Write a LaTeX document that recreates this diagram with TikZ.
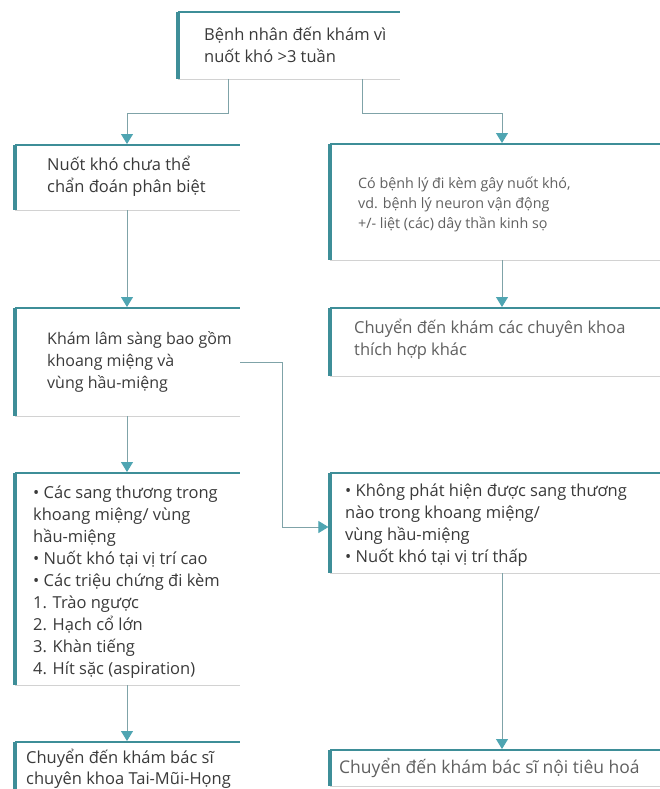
\documentclass[tikz,border=0pt]{standalone}
\usepackage{fontspec}
\setmainfont{Open Sans}
\usetikzlibrary{arrows.meta}
\definecolor{tealline}{HTML}{3E8E98}
\definecolor{tealarrow}{HTML}{4FA5B2}
\definecolor{conncol}{HTML}{7FA3A8}
\definecolor{botgray}{HTML}{D2D2D2}
\definecolor{txtc}{HTML}{3A3A3A}
\definecolor{txtl}{HTML}{606060}
\begin{document}
\begin{tikzpicture}[x=1pt,y=-1pt,
  frame/.style={inner sep=0pt, outer sep=0pt, anchor=north west},
  txt/.style={inner sep=0pt, anchor=west, align=left, text=txtc, font=\fontsize{16.5}{22}\selectfont},
  conn/.style={draw=conncol, line width=0.9pt, shorten >=1pt, -{Triangle[width=12pt,length=10pt,fill=tealarrow,color=tealarrow]}}
  ]
\useasboundingbox (0,0) rectangle (659,789);
\fill[white] (0,0) rectangle (659,789);
% boxes
\node[frame, minimum width=222pt, minimum height=67pt]  (t)  at (178,12)  {};
\node[frame, minimum width=225pt, minimum height=65pt]  (n2) at (15,145)  {};
\node[frame, minimum width=340pt, minimum height=116pt] (r1) at (330,144) {};
\node[frame, minimum width=225pt, minimum height=108pt] (n3) at (15,308)  {};
\node[frame, minimum width=340pt, minimum height=68pt]  (r2) at (330,308) {};
\node[frame, minimum width=225pt, minimum height=212pt] (n4) at (15,473)  {};
\node[frame, minimum width=340pt, minimum height=100pt] (r3) at (330,473) {};
\node[frame, minimum width=225pt, minimum height=55pt]  (n5) at (15,742)  {};
\node[frame, minimum width=340pt, minimum height=36pt]  (r4) at (330,750) {};
\foreach \b in {t,n2,r1,n3,r2,n4,r3,n5,r4}{
  \draw[botgray, line width=0.8pt] (\b.south west) -- (\b.south east);
  \draw[tealline, line width=2.2pt] (\b.north west) -- (\b.north east);
  \draw[tealline, line width=3.2pt] (\b.north west) -- (\b.south west);
}
% texts
\node[txt] (tt) at (204,44.5) {Bệnh nhân đến khám vì\\nuốt khó >3 tuần};
\node[txt] (tn2) at (47,176.5) {Nuốt khó chưa thể\\chẩn đoán phân biệt};
\node[txt, text=txtl, font=\fontsize{14.3}{20}\selectfont] (tr1) at (358,204) {Có bệnh lý đi kèm gây nuốt khó,\\vd. bệnh lý neuron vận động\\+/- liệt (các) dây thần kinh sọ};
\node[txt, font=\fontsize{16}{22}\selectfont] (tn3) at (47,362) {Khám lâm sàng bao gồm\\khoang miệng và\\vùng hầu-miệng};
\node[txt, text=txtl] (tr2) at (354,339) {Chuyển đến khám các chuyên khoa\\thích hợp khác};
\node[txt] (tn4) at (33,582) {• Các sang thương trong\\khoang miệng/ vùng\\hầu-miệng\\• Nuốt khó tại vị trí cao\\• Các triệu chứng đi kèm\\1. Trào ngược\\2. Hạch cổ lớn\\3. Khàn tiếng\\4. Hít sặc (aspiration)};
\node[txt] (tr3) at (345,525) {• Không phát hiện được sang thương\\nào trong khoang miệng/\\vùng hầu-miệng\\• Nuốt khó tại vị trí thấp};
\node[txt, font=\fontsize{16.5}{21}\selectfont] (tn5) at (26,768.5) {Chuyển đến khám bác sĩ\\chuyên khoa Tai-Mũi-Họng};
\node[txt, text=txtl, font=\fontsize{17.5}{22}\selectfont] (tr4) at (339,768) {Chuyển đến khám bác sĩ nội tiêu hoá};
% connectors
\draw[conn] ([xshift=50pt]t.south west) -- ++(0,34) -| ([xshift=112pt]n2.north west);
\draw[conn] ([xshift=184pt]t.south west) -- ++(0,34) -| ([xshift=172pt]r1.north west);
\draw[conn] ([xshift=112pt]n2.south west) -- ([xshift=112pt]n3.north west);
\draw[conn] ([xshift=112pt]n3.south west) -- ([xshift=112pt]n4.north west);
\draw[conn] ([xshift=112pt]n4.south west) -- ([xshift=112pt]n5.north west);
\draw[conn] ([xshift=172pt]r1.south west) -- ([xshift=172pt]r2.north west);
\draw[conn] ([xshift=172pt]r3.south west) -- ([xshift=172pt]r4.north west);
\draw[conn, shorten >=1.6pt] (n3.east) -- ++(42,0) |- ([yshift=-4pt]r3.west);
\end{tikzpicture}
\end{document}
